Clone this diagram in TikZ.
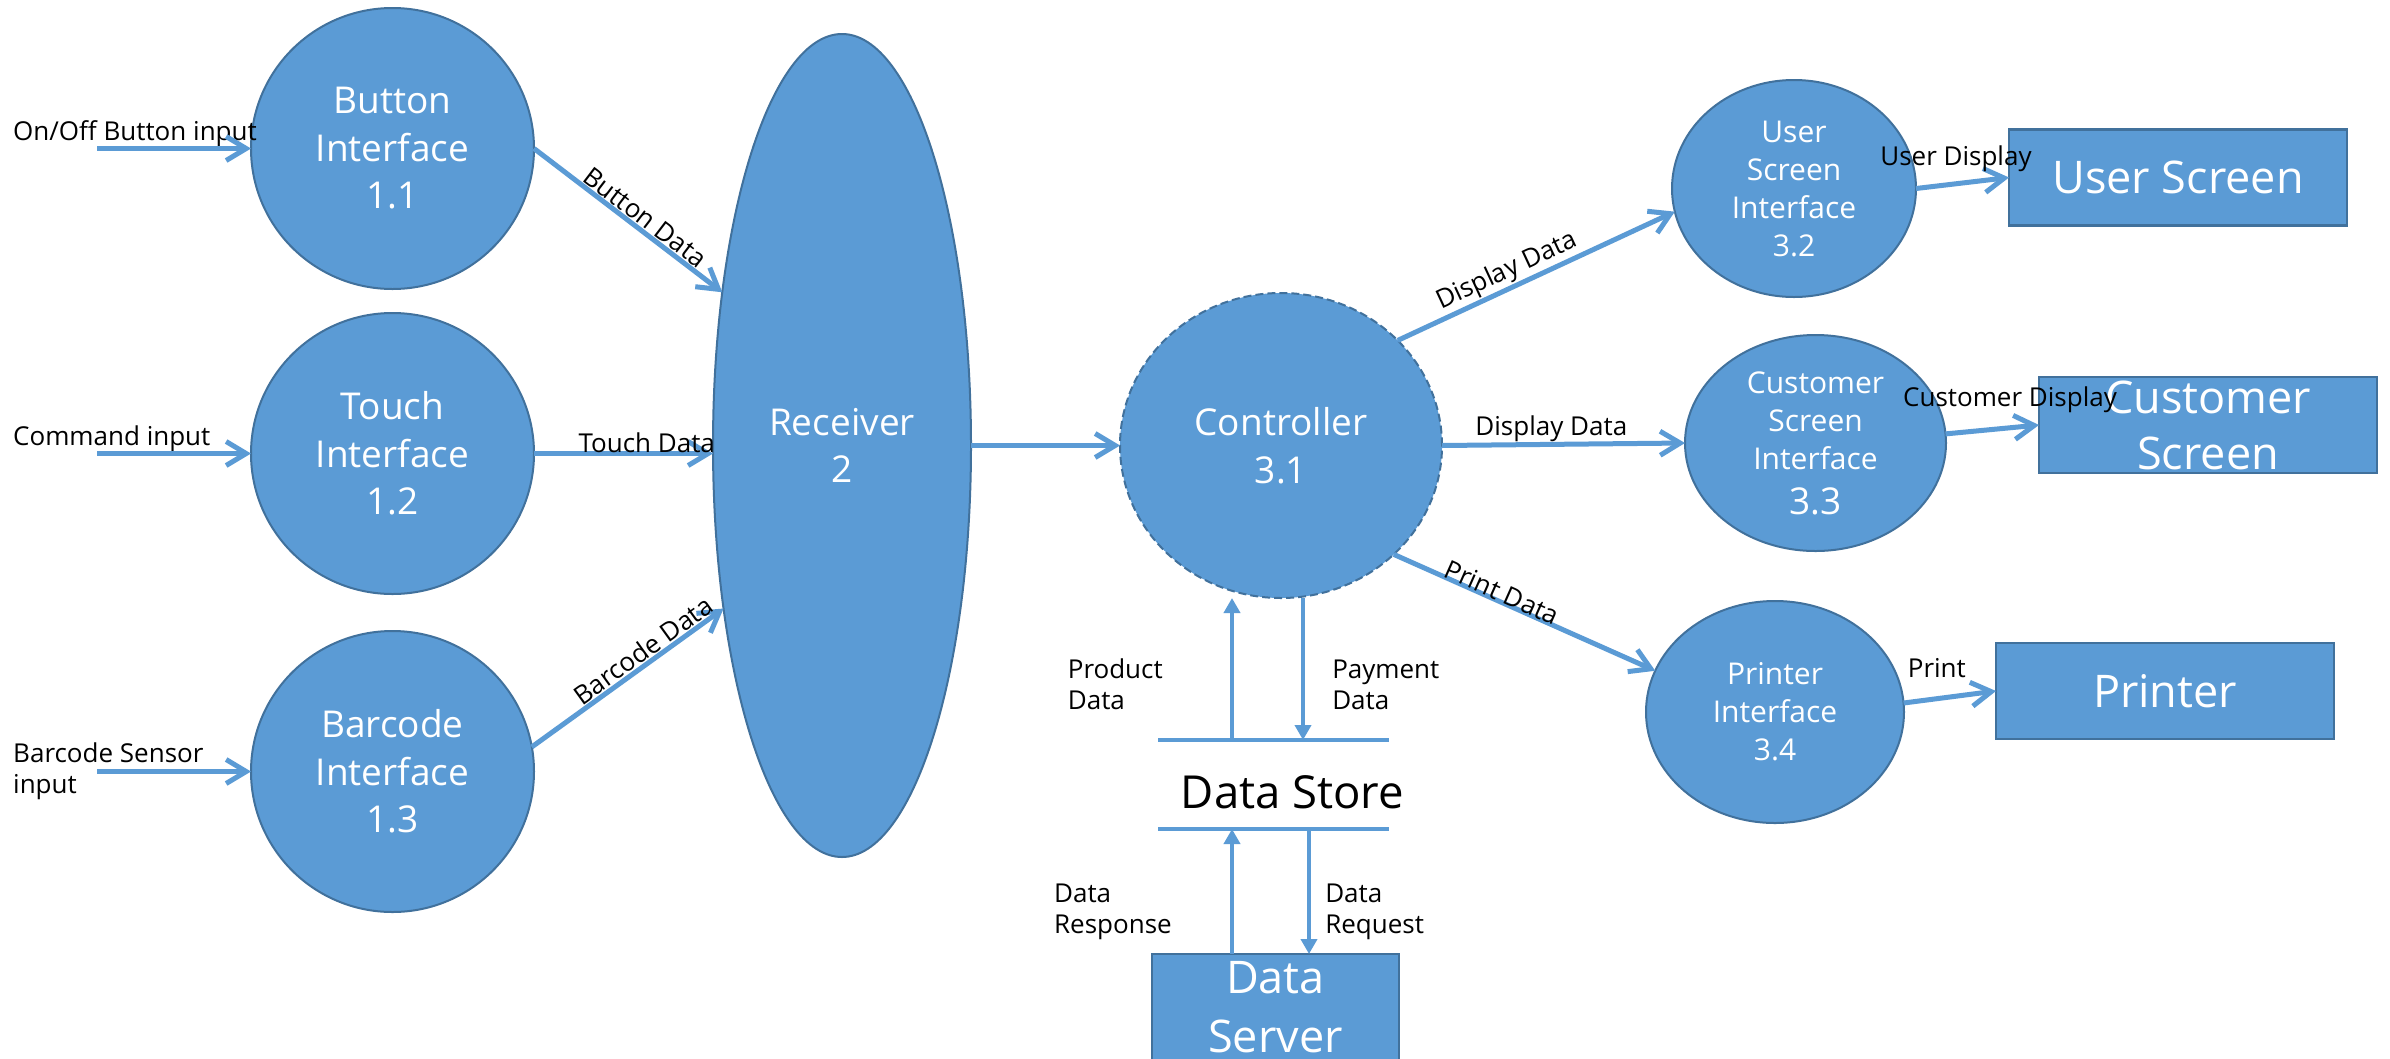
\documentclass[tikz,border=0pt]{standalone}
\usepackage{fontspec}
\setmainfont{Open Sans}
\usetikzlibrary{shapes.geometric,arrows.meta}
\definecolor{procFill}{RGB}{91,155,213}
\definecolor{procEdge}{RGB}{65,113,156}

\begin{document}
\begin{tikzpicture}[x=1pt,y=-1pt,
  procCircle/.style={ellipse,draw=procEdge,line width=2pt,fill=procFill,text=white,
    inner sep=0pt,outer sep=0pt,align=center,font=\fontsize{37}{47.5}\selectfont},
  procSmall/.style={procCircle,font=\fontsize{30}{38}\selectfont},
  termBox/.style={rectangle,draw=procEdge,line width=2.5pt,fill=procFill,text=white,
    inner sep=0pt,outer sep=0pt,align=center,minimum width=338pt,minimum height=96pt,
    font=\fontsize{45}{56}\selectfont},
  flowArrow/.style={draw=procFill,line width=5pt,-{Straight Barb[length=20pt,width=24pt]}},
  storeArrow/.style={draw=procFill,line width=4.5pt,-{Triangle[length=15pt,width=16pt]}},
  storeLine/.style={draw=procFill,line width=4.5pt},
  flowLabel/.style={text=black,inner sep=1pt,font=\fontsize{26}{31}\selectfont},
  sideLabel/.style={flowLabel,inner sep=0pt,align=left}]
\definecolor{fillColor}{RGB}{255,255,255}
\path[use as bounding box,fill=fillColor] (0,0) rectangle (2390,1058);

% processes
\node[procCircle,minimum width=283pt,minimum height=281pt] (btnIf) at (392.5,148.5) {Button\\Interface\\1.1};
\node[procCircle,minimum width=283pt,minimum height=281pt] (tchIf) at (392.5,453.5) {Touch\\Interface\\1.2};
\node[procCircle,minimum width=283pt,minimum height=281pt] (barIf) at (392.5,771.5) {Barcode\\Interface\\1.3};
\node[procCircle,minimum width=258pt,minimum height=823pt] (recv) at (842,445.5) {Receiver\\2};
\node[procCircle,dash pattern=on 8pt off 4pt,minimum width=322pt,minimum height=305pt] (ctrl) at (1281,445.5) {Controller\\3.1};
\node[procSmall,minimum width=244pt,minimum height=217pt] (usrIf) at (1794,188.5) {User\\Screen\\Interface\\3.2};
\node[procSmall,minimum width=261pt,minimum height=216pt] (cusIf) at (1815.5,443) {Customer\\Screen\\Interface\\[7pt]{\fontsize{37}{45}\selectfont 3.3}};
\node[procSmall,minimum width=258pt,minimum height=222pt] (prnIf) at (1775,712) {Printer\\Interface\\3.4};

% terminators
\node[termBox] (usrScr) at (2178,177.5) {User Screen};
\node[termBox] (cusScr) at (2208,425) {Customer\\Screen};
\node[termBox] (prnDev) at (2165,691) {Printer};
\node[termBox,minimum width=247pt,minimum height=106pt,font=\fontsize{45}{59}\selectfont] (dSrv) at (1275.5,1007) {Data\\Server};

% data store
\node[rectangle,inner sep=0pt,outer sep=0pt,minimum width=231pt,minimum height=89pt] (dStore) at (1273.5,784.5) {};
\draw[storeLine] (dStore.north west) -- (dStore.north east);
\draw[storeLine] (dStore.south west) -- (dStore.south east);
\node[text=black,inner sep=0pt,font=\fontsize{45.5}{55}\selectfont] (dStoreLbl) at (1292.5,792.5) {Data Store};

% inputs
\coordinate (inOnOff) at (97,148.5);
\coordinate (inCmd) at (97,453.5);
\coordinate (inBar) at (97,771.5);
\node[flowLabel,inner sep=0pt,anchor=base west] (lblOnOff) at (13,140) {On/Off Button input};
\node[flowLabel,inner sep=0pt,anchor=base west] (lblCmd) at (13,445) {Command input};
\node[sideLabel,anchor=west] (lblBarSens) at (13,771.5) {Barcode Sensor\\input};
\draw[flowArrow] (inOnOff) -- (btnIf.west);
\draw[flowArrow] (inCmd) -- (tchIf.west);
\draw[flowArrow] (inBar) -- (barIf.west);

% to receiver
\draw[flowArrow] (btnIf.east) -- (recv.128.3) node[flowLabel,sloped,above,pos=0.55] (lblBtn) {Button Data};
\draw[flowArrow] (tchIf.east) -- (tchIf.east -| recv.west) node[flowLabel,anchor=base,pos=0.63,yshift=1pt] (lblTch) {Touch Data};
\draw[flowArrow] (barIf.10) -- (recv.234.7) node[flowLabel,sloped,above,pos=0.62] (lblBar) {Barcode Data};
\draw[flowArrow] (recv.east) -- (ctrl.west);

% from controller
\draw[flowArrow] (ctrl.42.3) -- (usrIf.191.2) node[flowLabel,sloped,above,pos=0.42] (lblDisp1) {Display Data};
\draw[flowArrow] (ctrl.east) -- (cusIf.west) node[flowLabel,above,inner sep=0pt,pos=0.45] (lblDisp2) {Display Data};
\draw[flowArrow] (ctrl.-44.6) -- (prnIf.161.6) node[flowLabel,sloped,anchor=base,pos=0.4] (lblPrt) {Print Data};

% to terminators
\draw[flowArrow] (usrIf.east) -- (usrScr.west) node[flowLabel,anchor=base,pos=0.43,yshift=18pt] (lblUsr) {User Display};
\draw[flowArrow] (cusIf.4) -- (cusScr.west) node[flowLabel,anchor=base,pos=0.69,yshift=21pt] (lblCus) {Customer Display};
\draw[flowArrow] (prnIf.4) -- (prnDev.west) node[flowLabel,anchor=base,pos=0.36,yshift=21pt] (lblPrint) {Print};

% store flows
\coordinate (prodX) at (1232,0);
\coordinate (payX) at (1303,0);
\coordinate (reqX) at (1309,0);
\draw[storeArrow] (dStore.north -| prodX) -- (ctrl.south -| prodX) node[sideLabel,pos=0.395,left=67pt] (lblProd) {Product\\Data};
\draw[storeArrow] (ctrl.south -| payX) -- (dStore.north -| payX) node[sideLabel,pos=0.615,right=27pt] (lblPay) {Payment\\Data};
\draw[storeArrow] (dSrv.north -| prodX) -- (dStore.south -| prodX) node[sideLabel,pos=0.336,left=58pt] (lblResp) {Data\\Response};
\draw[storeArrow] (dStore.south -| reqX) -- (dSrv.north -| reqX) node[sideLabel,pos=0.664,right=14pt] (lblReq) {Data\\Request};
\end{tikzpicture}
\end{document}
